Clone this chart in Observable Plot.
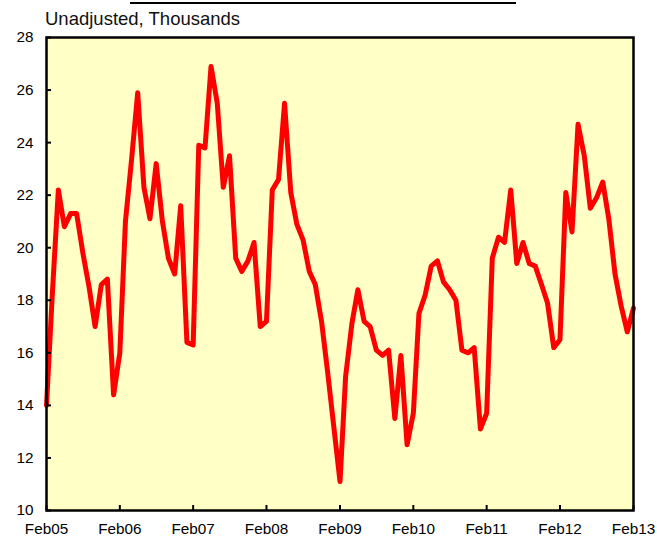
<!DOCTYPE html>
<html><head><meta charset="utf-8">
<script src="https://cdn.jsdelivr.net/npm/d3@7"></script>
<script src="https://cdn.jsdelivr.net/npm/@observablehq/plot@0.6"></script>
<style>
body{margin:0;background:#fff;}
#wrap{position:relative;width:657px;height:539px;font-family:Arial,"Liberation Sans",sans-serif;}
#chart{position:absolute;left:0;top:0;}
#topline{position:absolute;left:130px;top:2px;width:386px;height:2px;background:#000;}
#title{position:absolute;left:45px;top:9px;font-size:18.5px;line-height:20px;color:#111;white-space:nowrap;}
</style></head><body>
<div id="wrap"><div id="chart"></div><div id="topline"></div><div id="title"></div></div>
<script>
const title = "Unadjusted, Thousands";
const startYear = 2005;
const startMonth = 1; // February (0-based)
const values = [
  14.0, 18.1, 22.2, 20.8, 21.3, 21.3, 19.8, 18.5, 17.0, 18.6, 18.8, 14.4,
  16.0, 21.0, 23.4, 25.9, 22.3, 21.1, 23.2, 21.0, 19.6, 19.0, 21.6, 16.4,
  16.3, 23.9, 23.8, 26.9, 25.5, 22.3, 23.5, 19.6, 19.1, 19.5, 20.2, 17.0,
  17.2, 22.2, 22.6, 25.5, 22.1, 20.9, 20.3, 19.1, 18.6, 17.2, 15.3, 13.2,
  11.1, 15.1, 17.1, 18.4, 17.2, 17.0, 16.1, 15.9, 16.1, 13.5, 15.9, 12.5,
  13.7, 17.5, 18.2, 19.3, 19.5, 18.7, 18.4, 18.0, 16.1, 16.0, 16.2, 13.1,
  13.7, 19.6, 20.4, 20.2, 22.2, 19.4, 20.2, 19.4, 19.3, 18.6, 17.9, 16.2,
  16.5, 22.1, 20.6, 24.7, 23.5, 21.5, 21.9, 22.5, 21.1, 19.0, 17.8, 16.8,
  17.7
];
const yTicks = [10, 12, 14, 16, 18, 20, 22, 24, 26, 28];
const xTickYears = [2005, 2006, 2007, 2008, 2009, 2010, 2011, 2012, 2013];

document.getElementById("title").textContent = title;

const data = values.map((v, i) => ({date: new Date(Date.UTC(startYear, startMonth + i, 1)), value: v}));
const xTicks = xTickYears.map(y => new Date(Date.UTC(y, startMonth, 1)));
const fmt = d3.utcFormat("%b%y");

const plot = Plot.plot({
  width: 657, height: 539,
  marginLeft: 46, marginRight: 24, marginTop: 37, marginBottom: 29,
  style: {fontFamily: "Arial, 'Liberation Sans', sans-serif", fontSize: "15.3px", color: "#000", background: "transparent"},
  x: {type: "utc", domain: [xTicks[0], xTicks[xTicks.length - 1]]},
  y: {domain: [10, 28]},
  marks: [
    Plot.frame({fill: "#ffffc6", stroke: null}),
    Plot.line(data, {x: "date", y: "value", stroke: "#ff0000", strokeWidth: 5, strokeLinejoin: "round"}),
    Plot.axisY(yTicks, {tickSize: 0, tickPadding: 13, label: null}),
    Plot.axisY(yTicks, {tickSize: 5, dx: 5, tickFormat: () => "", label: null, strokeWidth: 2}),
    Plot.axisX(xTicks, {tickSize: 0, tickPadding: 13, tickFormat: fmt, label: null}),
    Plot.axisX(xTicks, {tickSize: 5, dy: -5, tickFormat: () => "", label: null, strokeWidth: 2}),
    Plot.frame({stroke: "#000", strokeWidth: 2.5})
  ]
});
document.getElementById("chart").appendChild(plot);
</script>
</body></html>
